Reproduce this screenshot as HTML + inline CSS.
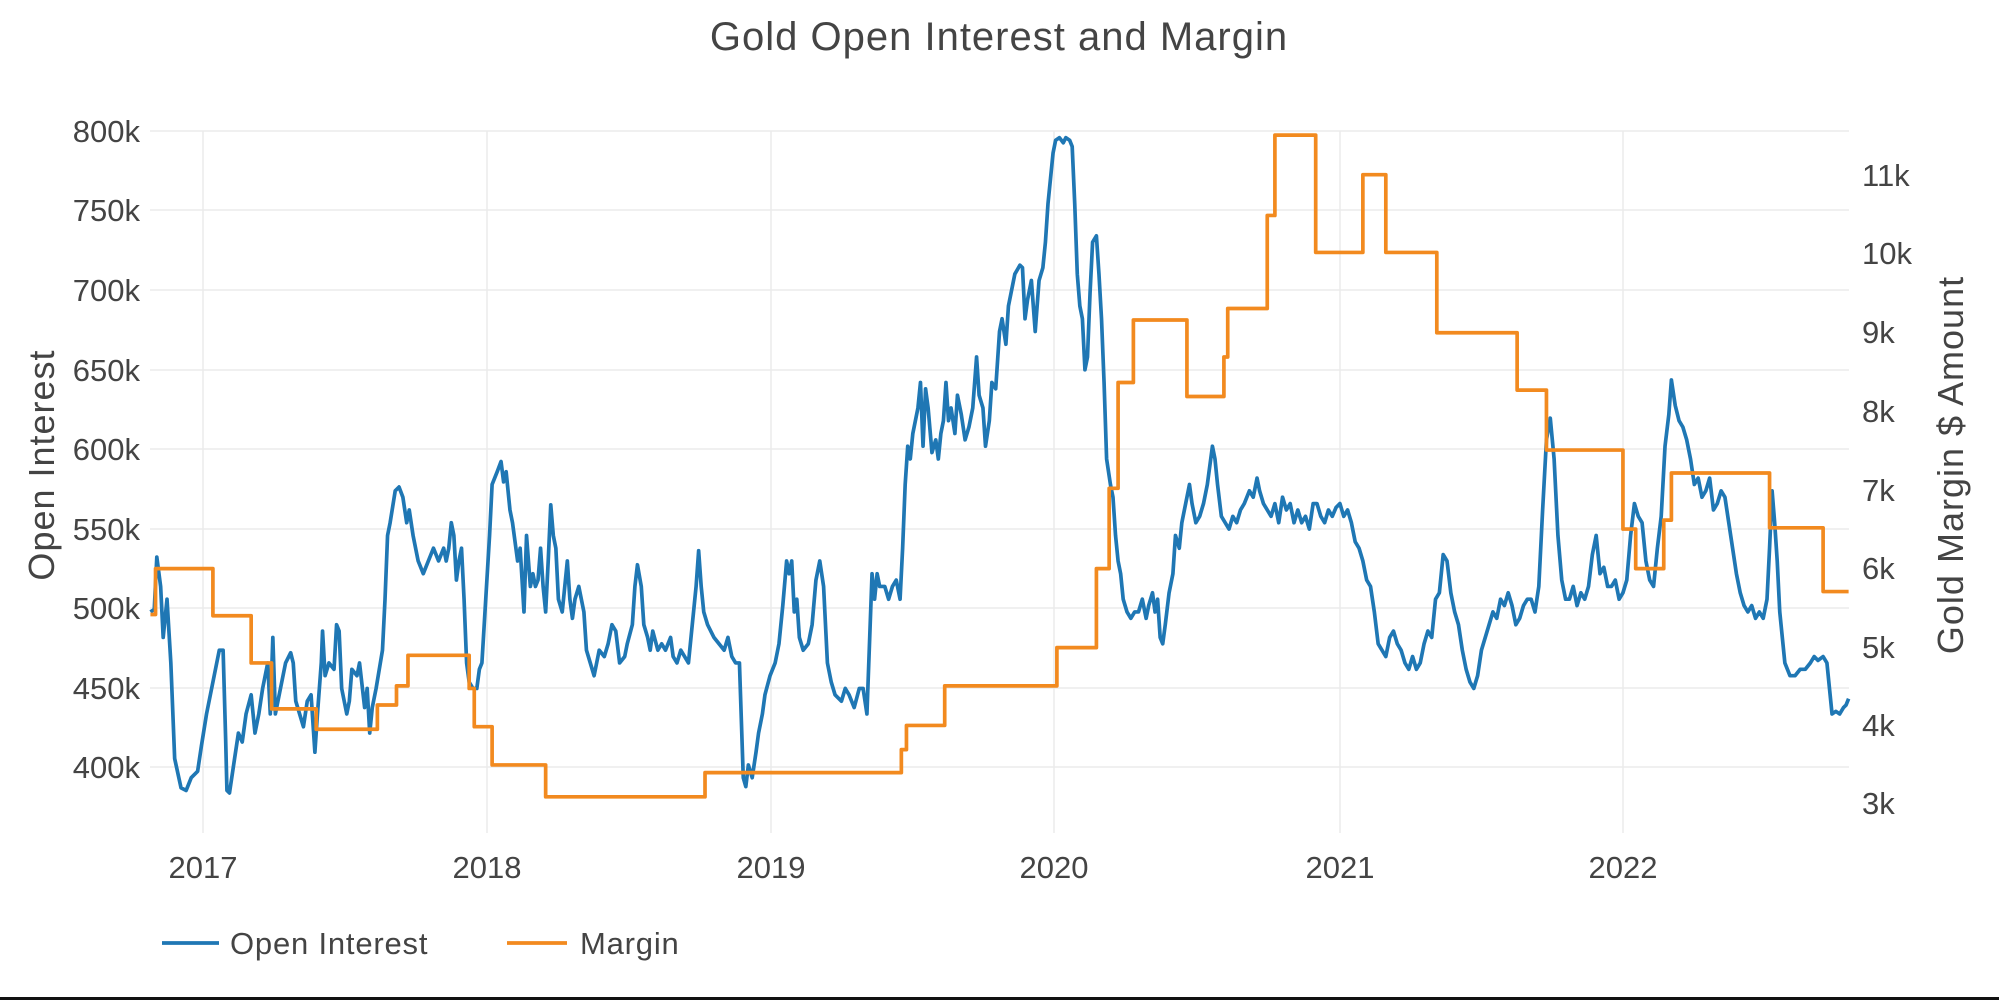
<!DOCTYPE html>
<html><head><meta charset="utf-8"><style>
html,body{margin:0;padding:0;background:#fff;}
svg{display:block;font-family:"Liberation Sans","DejaVu Sans",sans-serif;}
</style></head><body>
<svg width="1999" height="1000" viewBox="0 0 1999 1000" xmlns="http://www.w3.org/2000/svg">
<rect width="1999" height="1000" fill="#fff"/>
<g stroke="#ebebeb" stroke-width="1.5">
<line x1="150" x2="1849" y1="131" y2="131"/>
<line x1="150" x2="1849" y1="210" y2="210"/>
<line x1="150" x2="1849" y1="290" y2="290"/>
<line x1="150" x2="1849" y1="370" y2="370"/>
<line x1="150" x2="1849" y1="449" y2="449"/>
<line x1="150" x2="1849" y1="529" y2="529"/>
<line x1="150" x2="1849" y1="608" y2="608"/>
<line x1="150" x2="1849" y1="688" y2="688"/>
<line x1="150" x2="1849" y1="767" y2="767"/>
<line x1="203" x2="203" y1="131" y2="833"/>
<line x1="487" x2="487" y1="131" y2="833"/>
<line x1="771" x2="771" y1="131" y2="833"/>
<line x1="1054" x2="1054" y1="131" y2="833"/>
<line x1="1340" x2="1340" y1="131" y2="833"/>
<line x1="1623" x2="1623" y1="131" y2="833"/>
</g>
<text x="999" y="50" text-anchor="middle" font-size="40" fill="#444" letter-spacing="1">Gold Open Interest and Margin</text>
<g font-size="31" fill="#444" text-anchor="end">
<text x="140" y="142">800k</text><text x="140" y="221">750k</text><text x="140" y="301">700k</text>
<text x="140" y="381">650k</text><text x="140" y="460">600k</text><text x="140" y="540">550k</text>
<text x="140" y="619">500k</text><text x="140" y="699">450k</text><text x="140" y="778">400k</text>
</g>
<g font-size="31" fill="#444">
<text x="1862" y="186">11k</text><text x="1862" y="264">10k</text><text x="1862" y="343">9k</text>
<text x="1862" y="422">8k</text><text x="1862" y="501">7k</text><text x="1862" y="579">6k</text>
<text x="1862" y="658">5k</text><text x="1862" y="736">4k</text><text x="1862" y="814">3k</text>
</g>
<g font-size="31" fill="#444" text-anchor="middle">
<text x="203" y="878">2017</text><text x="487" y="878">2018</text><text x="771" y="878">2019</text>
<text x="1054" y="878">2020</text><text x="1340" y="878">2021</text><text x="1623" y="878">2022</text>
</g>
<text transform="translate(54,465) rotate(-90)" text-anchor="middle" font-size="36" fill="#444" letter-spacing="1">Open Interest</text>
<text transform="translate(1963,465) rotate(-90)" text-anchor="middle" font-size="36" fill="#444" letter-spacing="1">Gold Margin $ Amount</text>
<g transform="scale(1.2749)" fill="none" stroke-linejoin="round">
<path stroke="#1f77b4" stroke-width="2.9" d="M118,480 L121,478 123,437 126,460 128,500 131,470 134,520 137,595 142,618 146,620 150,610 155,605 158,585 162,560 168,530 172,510 175,510 177,580 178,620 180,622 184,595 187,575 190,582 193,560 197,545 200,575 203,560 206,540 210,520 212,560 214,500 216,560 220,540 224,520 228,512 230,520 232,550 235,560 238,570 241,550 244,545 247,590 249,560 252,520 253,495 255,530 258,520 262,525 264,490 266,495 268,540 272,560 274,550 276,525 280,530 282,520 286,555 288,540 290,575 292,555 295,540 300,510 302,470 304,420 306,410 310,385 313,382 316,390 319,410 321,400 324,420 328,440 332,450 336,440 340,430 344,440 348,430 350,440 352,430 354,410 356,420 358,455 360,440 362,430 364,470 366,520 368,535 371,540 374,540 376,525 378,520 381,470 384,420 386,380 390,370 393,362 395,378 397,370 400,400 402,410 406,440 408,430 411,480 413,420 416,460 418,450 420,460 422,455 424,430 426,460 428,480 430,440 432,396 434,420 436,430 438,470 441,480 443,460 445,440 447,470 449,485 451,470 454,460 456,470 458,480 460,510 463,520 466,530 470,510 474,515 477,505 480,490 483,495 486,520 490,515 492,505 496,490 498,460 500,443 503,460 505,490 508,500 510,510 512,495 516,510 519,505 522,510 526,500 528,515 531,520 534,510 537,515 540,520 543,490 546,460 548,432 550,460 552,480 555,490 560,500 564,505 568,510 571,500 574,515 577,520 580,520 583,610 585,617 587,600 590,610 593,590 595,575 598,560 600,545 604,530 608,520 611,505 614,475 617,440 619,450 621,440 623,480 625,470 627,500 630,510 634,505 637,490 640,455 643,440 646,460 649,520 652,535 655,545 660,550 663,540 666,545 670,555 674,540 677,540 680,560 684,450 686,470 688,450 690,460 694,460 697,470 700,460 703,455 706,470 708,430 710,380 712,350 714,360 716,340 720,320 722,300 724,350 726,305 728,320 731,355 734,345 736,360 738,340 740,330 742,300 744,330 746,320 749,340 751,310 754,325 757,345 760,335 763,320 766,280 768,310 771,320 773,350 776,330 778,300 781,305 784,260 786,250 789,270 791,240 793,230 796,215 800,208 802,210 804,250 806,235 809,220 812,260 815,220 818,210 820,190 822,160 824,140 826,120 828,110 831,108 834,112 836,108 839,110 841,115 843,160 845,215 847,240 849,250 851,290 853,280 855,230 857,190 860,185 862,215 864,250 866,300 868,360 871,380 873,390 875,420 877,440 879,450 881,470 884,480 887,485 890,480 893,480 896,470 899,485 901,475 904,465 906,480 908,470 910,500 912,505 914,490 917,465 920,450 922,420 925,430 927,410 930,395 933,380 935,395 938,410 941,405 944,395 947,380 949,365 951,350 953,360 955,380 958,405 961,410 964,415 967,405 970,410 973,400 976,395 980,385 983,390 986,375 988,385 991,395 994,400 997,405 1000,395 1003,410 1006,390 1009,400 1012,395 1015,410 1018,400 1021,410 1024,405 1027,415 1030,395 1033,395 1036,405 1039,410 1042,400 1045,405 1048,398 1051,395 1054,405 1057,400 1060,410 1063,425 1066,430 1069,440 1072,455 1075,460 1078,480 1081,505 1084,510 1087,515 1090,500 1093,495 1096,505 1099,510 1102,520 1105,525 1108,515 1111,525 1114,520 1117,505 1120,495 1123,500 1126,470 1129,465 1132,435 1135,440 1138,465 1141,480 1144,490 1147,510 1150,525 1153,535 1156,540 1159,530 1162,510 1165,500 1168,490 1171,480 1174,485 1177,470 1180,475 1183,465 1186,475 1189,490 1192,485 1195,475 1198,470 1201,470 1204,480 1207,460 1210,400 1213,345 1216,328 1219,360 1222,420 1225,455 1228,470 1231,470 1234,460 1237,475 1240,465 1243,470 1246,460 1249,435 1252,420 1255,450 1258,445 1261,460 1264,460 1267,455 1270,470 1273,465 1276,455 1279,420 1282,395 1285,405 1288,410 1291,440 1294,455 1297,460 1300,430 1303,405 1306,350 1309,325 1311,298 1314,318 1317,330 1320,335 1323,345 1326,360 1329,380 1332,375 1335,390 1338,385 1341,375 1344,400 1347,395 1350,385 1353,390 1356,410 1359,430 1362,450 1365,465 1368,475 1371,480 1374,475 1377,485 1380,480 1383,485 1386,470 1388,430 1390,385 1392,410 1394,440 1396,480 1398,500 1400,520 1404,530 1408,530 1412,525 1416,525 1420,520 1423,515 1426,518 1430,515 1433,520 1435,540 1437,560 1440,558 1443,560 1446,555 1448,553 1450,548"/>
<path stroke="#f28a1f" stroke-width="2.9" d="M118,482 H122 V446 H167 V483 H197 V520 H213 V556 H248 V572 H296 V553 H311 V538 H320 V514 H368 V540 H372 V570 H386 V600 H428 V625 H553 V606 H707 V588 H711 V569 H741 V538 H829 V508 H860 V446 H870 V383 H877 V300 H889 V251 H931 V311 H960 V280 H963 V242 H994 V169 H1000 V106 H1032 V198 H1069 V137 H1087 V198 H1127 V261 H1190 V306 H1213 V353 H1273 V415 H1283 V446 H1305 V408 H1311 V371 H1388 V414 H1430 V464 H1450"/>
</g>
<line x1="162" x2="219" y1="943" y2="943" stroke="#1f77b4" stroke-width="3.7"/>
<text x="230" y="954" font-size="31" fill="#444" letter-spacing="0.8">Open Interest</text>
<line x1="507" x2="567" y1="943" y2="943" stroke="#f28a1f" stroke-width="3.7"/>
<text x="580" y="954" font-size="31" fill="#444" letter-spacing="0.8">Margin</text>
<rect x="0" y="997" width="1999" height="3" fill="#111"/>
</svg>
</body></html>
